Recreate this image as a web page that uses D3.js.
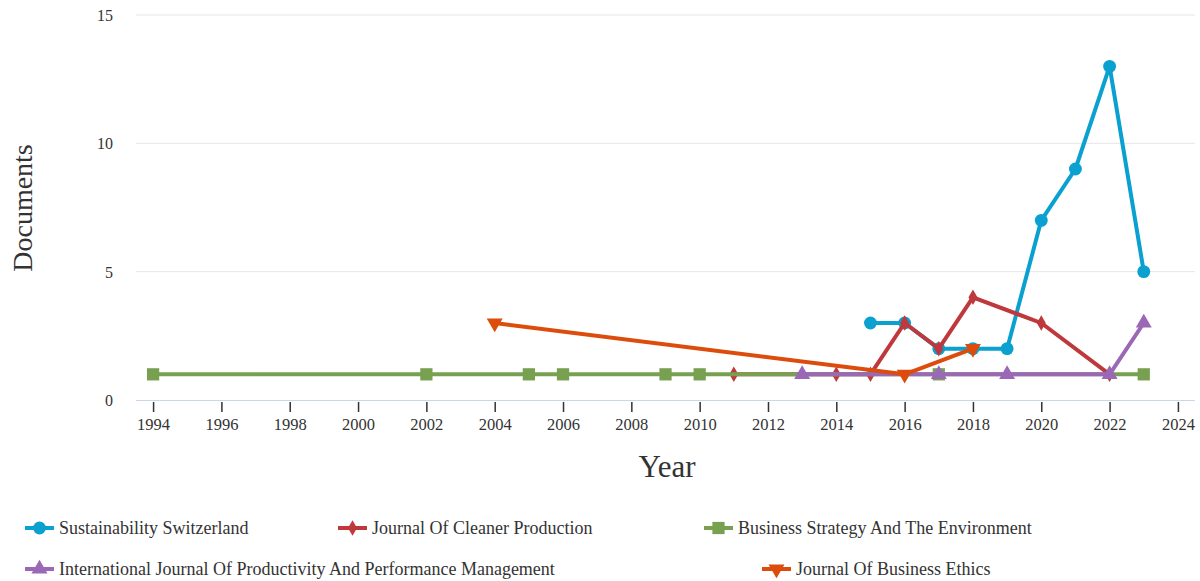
<!DOCTYPE html>
<html><head><meta charset="utf-8">
<script src="https://cdn.jsdelivr.net/npm/d3@7"></script>
<style>body{margin:0;background:#fff}svg{display:block}text{font-family:"Liberation Serif","DejaVu Serif",serif;fill:#333}</style>
</head><body><svg id="c" width="1200" height="581"></svg>
<script>
const seriesNames = ["Sustainability Switzerland","Journal Of Cleaner Production","Business Strategy And The Environment","International Journal Of Productivity And Performance Management","Journal Of Business Ethics"];
const seriesColors = ["#0aa0cf","#bf383c","#77a050","#9a68b6","#dc4c0c"];
const seriesSymbols = ["circle","diamond","square","triangle","triangle-down"];
const sustYears = [2015,2016,2017,2018,2019,2020,2021,2022,2023];
const sustValues = [3,3,2,2,2,7,9,13,5];
const jcpYears = [2011,2014,2015,2016,2017,2018,2020,2022];
const jcpValues = [1,1,1,3,2,4,3,1];
const bseYears = [1994,2002,2005,2006,2009,2010,2017,2023];
const bseValues = [1,1,1,1,1,1,1,1];
const ijppmYears = [2013,2017,2019,2022,2023];
const ijppmValues = [1,1,1,1,3];
const jbeYears = [2004,2016,2018];
const jbeValues = [3,1,2];
const xTicks = [1994,1996,1998,2000,2002,2004,2006,2008,2010,2012,2014,2016,2018,2020,2022,2024];
const yTicks = [0,5,10,15];

const allYears=[sustYears,jcpYears,bseYears,ijppmYears,jbeYears];
const allVals=[sustValues,jcpValues,bseValues,ijppmValues,jbeValues];
const series = seriesNames.map((n,i)=>({name:n,color:seriesColors[i],symbol:seriesSymbols[i],
  pts:allYears[i].map((y,j)=>({x:y,y:allVals[i][j]}))}));

const svg=d3.select("#c");
const x=d3.scaleLinear().domain([1993.5,2024.5]).range([136,1195]);
const y=d3.scaleLinear().domain([0,15]).range([400,15]);

svg.append("g").selectAll("line").data(yTicks.filter(d=>d>0)).join("line")
 .attr("x1",136).attr("x2",1195).attr("y1",d=>y(d)).attr("y2",d=>y(d))
 .attr("stroke","#e6e6e6").attr("stroke-width",1);
svg.append("g").selectAll("text").data(yTicks).join("text")
 .attr("x",113).attr("y",d=>y(d)+6).attr("text-anchor","end").style("font-size","16px").text(d=>d);
const xa=svg.append("g").attr("transform","translate(0,400)")
 .call(d3.axisBottom(x).tickValues(xTicks).tickFormat(d3.format("d")).tickSize(12).tickPadding(6));
xa.select(".domain").attr("stroke","#ccd6eb").attr("d","M136,0.5H1195");
xa.selectAll(".tick line").attr("stroke","#333").attr("stroke-width",1.5).attr("y1",2);
xa.selectAll(".tick text").style("font-size","16.5px").style("font-family","Liberation Serif").attr("fill","#333");

svg.append("text").attr("transform","translate(32,208) rotate(-90)").attr("text-anchor","middle")
 .style("font-size","28px").text("Documents");
svg.append("text").attr("x",667).attr("y",477).attr("text-anchor","middle").style("font-size","31px").text("Year");

const line=d3.line().x(d=>x(d.x)).y(d=>y(d.y));
const symMap={circle:d3.symbolCircle,diamond:d3.symbolDiamond,square:d3.symbolSquare,triangle:d3.symbolTriangle,"triangle-down":d3.symbolTriangle};
const symSize={circle:130,diamond:70,square:150,triangle:110,"triangle-down":110};
function sym(s){return d3.symbol().type(symMap[s]).size(symSize[s])();}

series.forEach(s=>{
  const g=svg.append("g");
  g.append("path").datum(s.pts).attr("d",line).attr("fill","none").attr("stroke",s.color)
   .attr("stroke-width",4).attr("stroke-linejoin","round").attr("stroke-linecap","round");
  g.selectAll("path.m").data(s.pts).join("path").attr("class","m").attr("d",sym(s.symbol)).attr("fill",s.color)
   .attr("transform",d=>`translate(${x(d.x)},${y(d.y)})`+(s.symbol==="triangle-down"?" rotate(180)":""));
});

const legPos=[[25,528],[338,528],[704,528],[25,569],[762,569]];
series.forEach((s,i)=>{
  const [lx,ly]=legPos[i];
  const g=svg.append("g").attr("transform",`translate(${lx},${ly})`);
  g.append("line").attr("x1",0).attr("x2",29).attr("stroke",s.color).attr("stroke-width",4);
  g.append("path").attr("d",sym(s.symbol)).attr("fill",s.color).attr("transform","translate(14.5,0)"+(s.symbol==="triangle-down"?" rotate(180)":""));
  g.append("text").attr("x",34).attr("y",6).style("font-size","18px").text(s.name);
});
</script></body></html>
